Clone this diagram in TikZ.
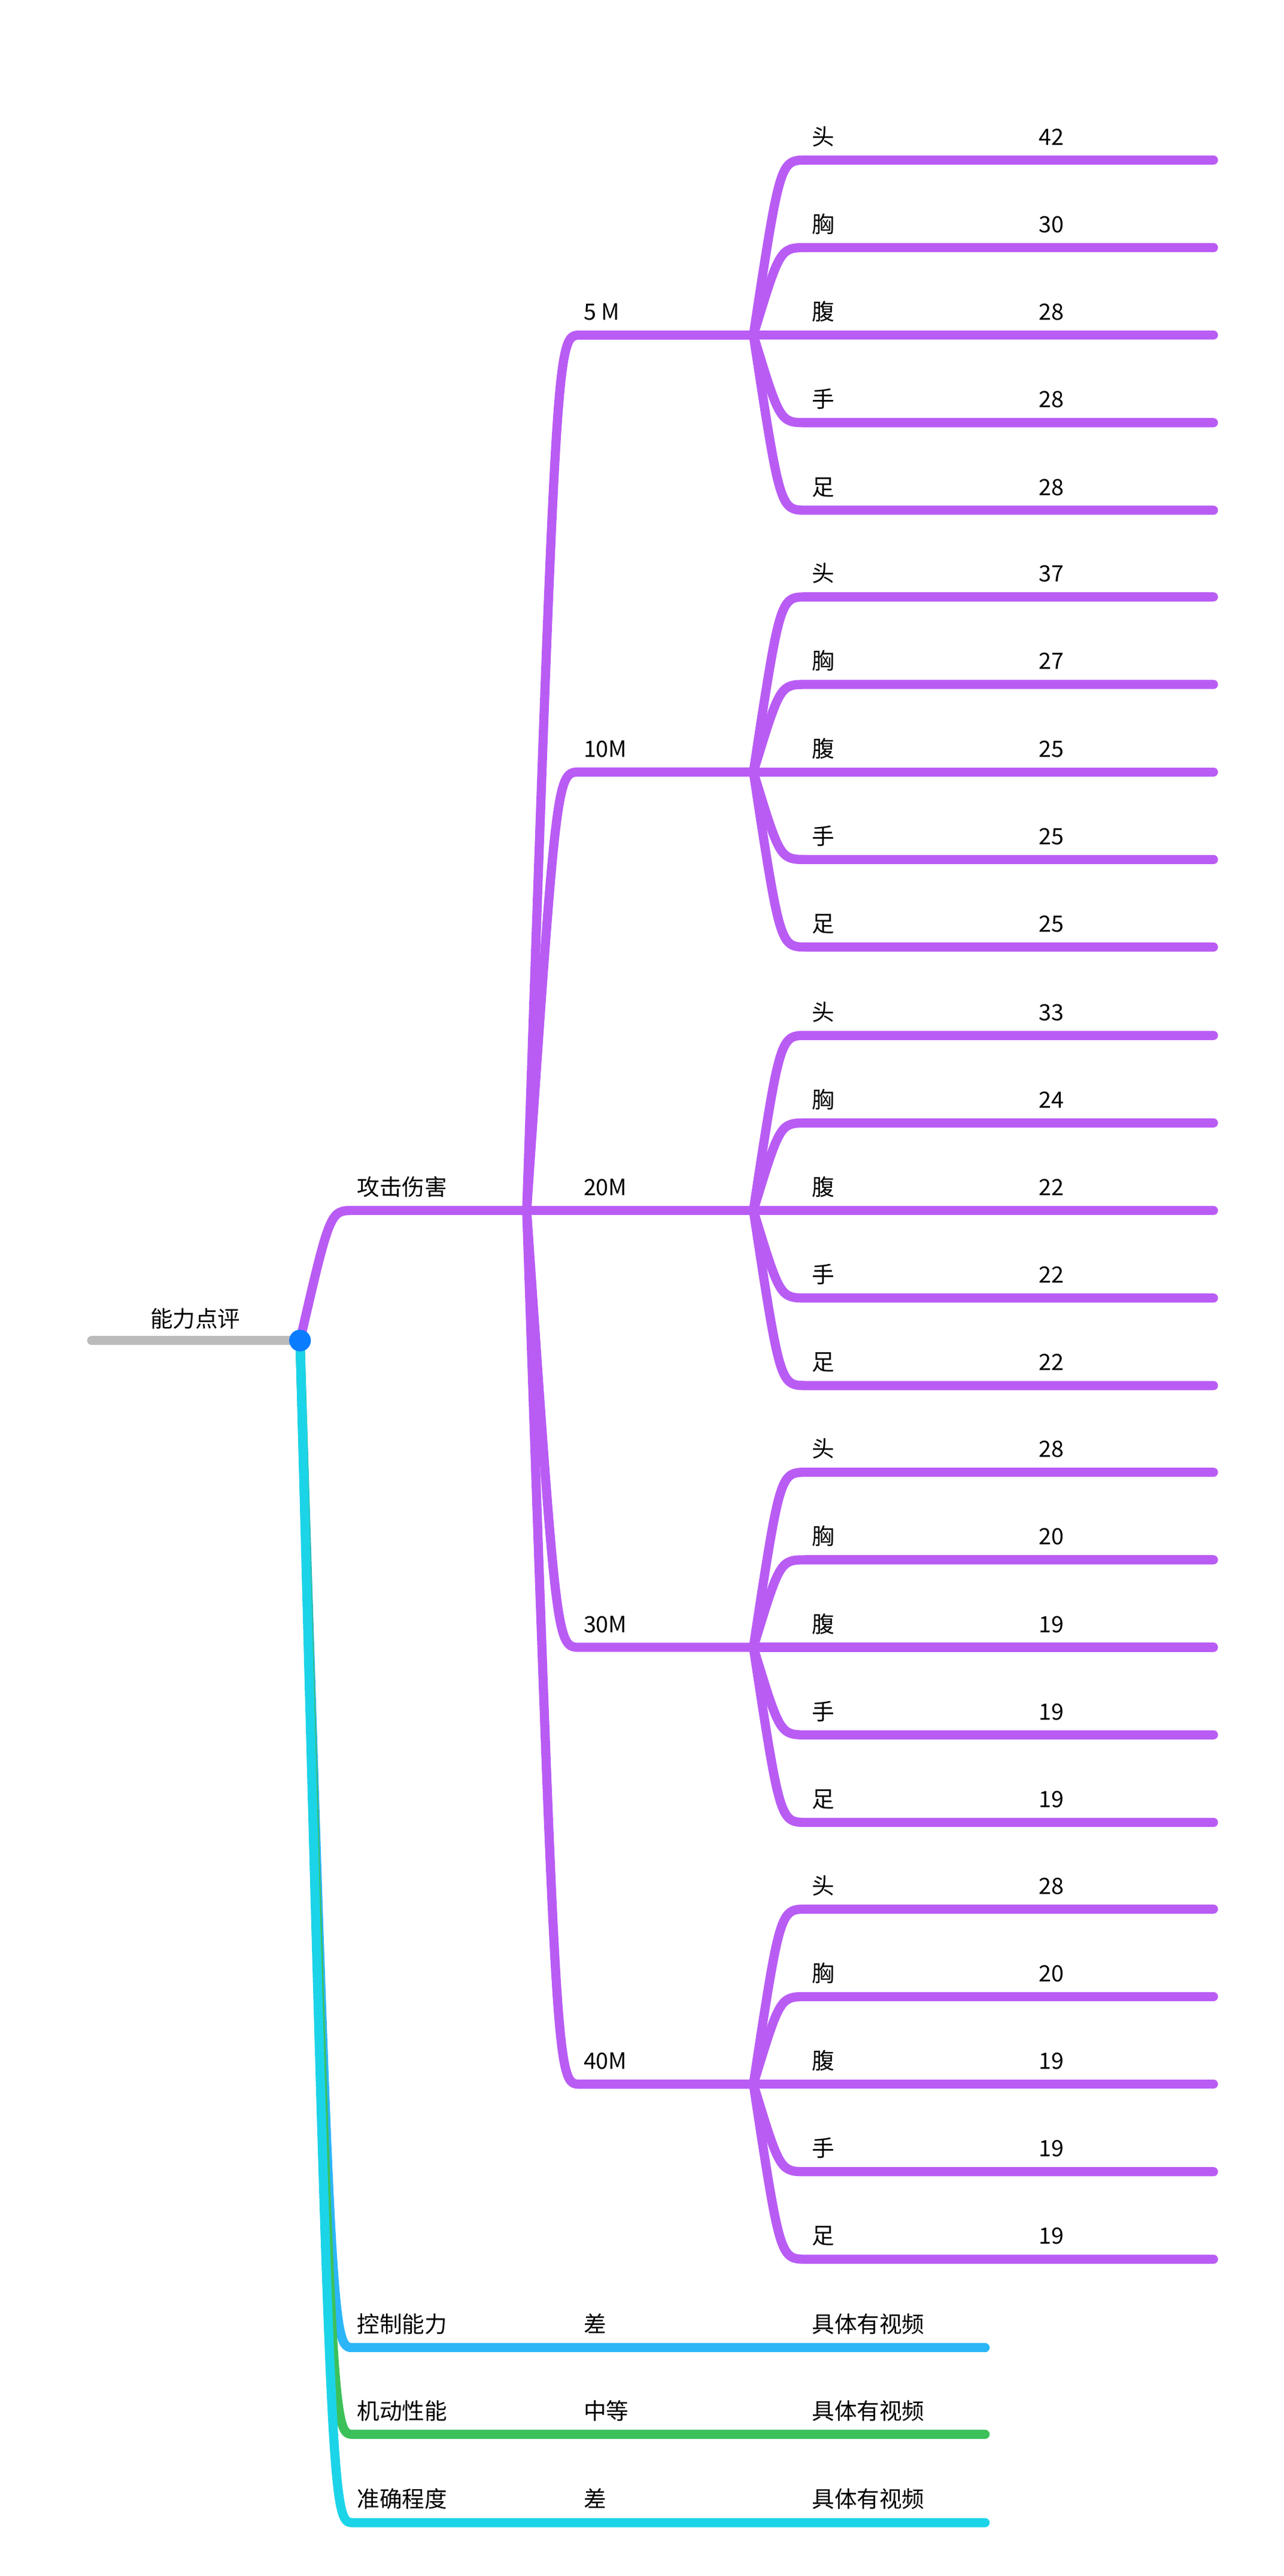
\documentclass[tikz,border=0pt]{standalone}
\usepackage{fontspec}
\setmainfont{Noto Sans CJK SC}
\definecolor{purp}{HTML}{B95CF4}
\definecolor{rootgray}{HTML}{BBBBBB}
\definecolor{dotblue}{HTML}{0A7CFF}
\definecolor{ctrlblue}{HTML}{2BB6F8}
\definecolor{movegreen}{HTML}{3CC15A}
\definecolor{aimcyan}{HTML}{1CD4E8}
\tikzset{
  branch/.style={line width=5.5pt, line cap=round, color=#1},
  lab/.style={anchor=base west, font=\fontsize{13.5pt}{16pt}\selectfont, inner sep=0pt}
}
\begin{document}
\begin{tikzpicture}[x=1pt,y=1pt]
    \useasboundingbox (0,0) rectangle (770,-1545);
    % root
    \coordinate (root-s) at (55,-804);
    \coordinate (root) at (180,-804);
    \draw[branch=rootgray] (root-s) -- (root);
    \node[lab] (root-lab) at (90,-796) {能力点评};
    % attack
    \coordinate (atk-s) at (212,-726);
    \coordinate (atk-e) at (316,-726);
    \node[lab] (atk-lab) at (214,-717) {攻击伤害};
    \draw[branch=purp] (root) .. controls (198,-726) .. (atk-s) -- (atk-e);
    % distances and leaves
    \foreach \d/\y/\lab/\va/\vb/\vc/\vd/\ve in {
        a/201/5 M/42/30/28/28/28,
        b/463/10M/37/27/25/25/25,
        c/726/20M/33/24/22/22/22,
        d/988/30M/28/20/19/19/19,
        e/1250/40M/28/20/19/19/19}{
      \coordinate (\d-s) at (348,-\y);
      \coordinate (\d-e) at (452,-\y);
      \draw[branch=purp] (atk-e) .. controls (334,-\y) .. (\d-s) -- (\d-e);
      \node[lab] (\d-lab) at (350,-\y+9) {\lab};
      \foreach \k/\part/\val in {-2/头/\va, -1/胸/\vb, 0/腹/\vc, 1/手/\vd, 2/足/\ve}{
        \coordinate (\d\k-s) at (484,-\y-\k*52.5);
        \coordinate (\d\k-e) at (728,-\y-\k*52.5);
        \draw[branch=purp] (\d-e) .. controls (468,-\y-\k*52.5) .. (\d\k-s) -- (\d\k-e);
        \node[lab] (\d\k-part) at (487,-\y-\k*52.5+9) {\part};
        \node[lab] (\d\k-val) at (623,-\y-\k*52.5+9) {\val};
      }
    }
    % other abilities
    \foreach \o/\y/\col/\name/\grade in {
        ctrl/1408/ctrlblue/控制能力/差,
        move/1460/movegreen/机动性能/中等,
        aim/1513/aimcyan/准确程度/差}{
      \coordinate (\o-s) at (212,-\y);
      \coordinate (\o-e) at (591,-\y);
      \draw[branch=\col] (root) .. controls (199,-\y) .. (\o-s) -- (\o-e);
      \node[lab] (\o-lab) at (214,-\y+9) {\name};
      \node[lab] (\o-grade) at (350,-\y+9) {\grade};
      \node[lab] (\o-note) at (487,-\y+9) {具体有视频};
    }
    \fill[dotblue] (root) circle [radius=6.5];
\end{tikzpicture}
\end{document}
